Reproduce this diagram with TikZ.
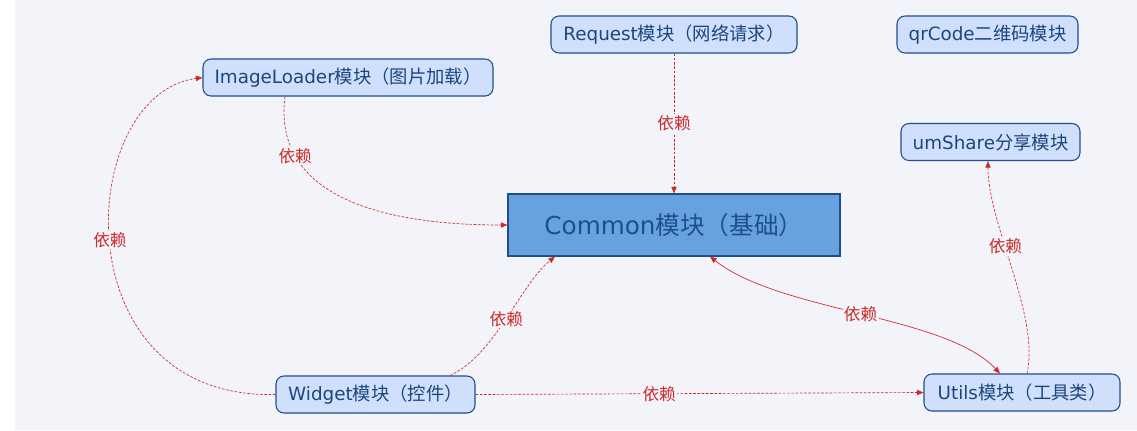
\documentclass[tikz,border=0pt]{standalone}
\usepackage{fontspec}
\setmainfont{DejaVu Sans}
\newfontfamily\cjk{Noto Sans CJK SC}
\usetikzlibrary{arrows.meta}
\definecolor{bgcol}{HTML}{F3F4FA}
\definecolor{boxfill}{HTML}{D0E0FC}
\definecolor{boxline}{HTML}{1E4E8C}
\definecolor{basefill}{HTML}{67A2DF}
\definecolor{deptext}{HTML}{CC2A2A}
\begin{document}
\begin{tikzpicture}[x=0.75pt, y=-0.75pt,
		module/.style={draw=boxline, fill=boxfill, rounded corners=6pt, line width=0.8pt, inner sep=0pt, minimum height=27.75pt, text=boxline!90!black, font=\fontsize{13.75}{16}\selectfont},
		base/.style={draw=boxline, fill=basefill, line width=0.8pt, inner sep=0pt, minimum width=249pt, minimum height=46.5pt, text=boxline, font=\fontsize{18.5}{22}\selectfont},
		dep/.style={draw=deptext, line width=0.5pt, dash pattern=on 2pt off 1.2pt, -{Triangle[length=5pt,width=4pt]}},
		deplabel/.style={fill=bgcol, inner sep=1pt, text=deptext, font=\cjk\fontsize{12.5}{14}\selectfont}]
			\useasboundingbox (0,0) rectangle (1137,430);
			\fill[bgcol] (15,0) rectangle (1137,430);
			\node [module, minimum width=184.5pt] (request) at (674,34.5) {Request{\cjk 模块（网络请求）}};
			\node [module, minimum width=135.75pt] (qrcode) at (987.5,34.5) {qrCode{\cjk 二维码模块}};
			\node [module, minimum width=217.5pt] (imgloader) at (348,77.5) {ImageLoader{\cjk 模块（图片加载）}};
			\node [module, minimum width=134.25pt] (umshare) at (990.5,142) {umShare{\cjk 分享模块}};
			\node [base] (common) at (674,225) {Common{\cjk 模块（基础）}};
			\node [module, minimum width=149.25pt] (widget) at (375.5,394.5) {Widget{\cjk 模块（控件）}};
			\node [module, minimum width=147pt] (utils) at (1022,392.5) {Utils{\cjk 模块（工具类）}};
			\draw [dep] (request.south) to node [deplabel, midway] {依赖} (common.north);
			\draw [dep] ([xshift=-47.25pt]imgloader.south) .. controls (272,200) and (390,225) .. node [deplabel, pos=0.23] {依赖} (common.west);
			\draw [dep] (widget.west) .. controls (60,400) and (75,95) .. node [deplabel, pos=0.51] {依赖} (imgloader.west);
			\draw [dep] ([xshift=55.9pt]widget.north) .. controls (495,355) and (520,285) .. node [deplabel, pos=0.5] {依赖} ([xshift=-89.25pt]common.south);
			\draw [dep] (widget.east) to node [deplabel, pos=0.41] {依赖} (utils.west);
			\draw [dep, solid, {Triangle[length=5pt,width=4pt]}-{Triangle[length=5pt,width=4pt]}] ([xshift=27pt]common.south) .. controls (780,312) and (945,315) .. node [deplabel, pos=0.5] {依赖} ([xshift=-16.5pt]utils.north);
			\draw [dep] ([xshift=3.75pt]utils.north) .. controls (1040,315) and (988,225) .. node [deplabel, pos=0.6] {依赖} ([xshift=-1.9pt]umshare.south);
		\end{tikzpicture}
\end{document}
